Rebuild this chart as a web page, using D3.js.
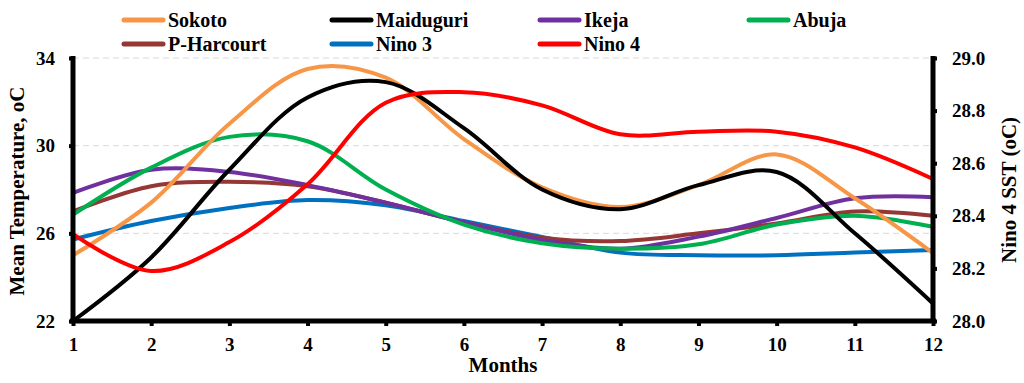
<!DOCTYPE html>
<html><head><meta charset="utf-8">
<script src="https://cdn.jsdelivr.net/npm/d3@7"></script>
<style>body{margin:0;background:#fff}svg{display:block}svg text{font-family:"Liberation Serif","Times New Roman",serif;font-weight:bold;fill:#000}</style>
</head><body><svg id="c" width="1024" height="383"></svg>
<script>
const months = [1,2,3,4,5,6,7,8,9,10,11,12];
const leftTicks = [22,26,30,34];
const rightTicks = [28.0,28.2,28.4,28.6,28.8,29.0];
const sokoto     = [25.0,27.4,31.0,33.5,33.1,30.3,28.1,27.2,28.2,29.6,27.6,25.1];
const maiduguri  = [22.0,24.9,28.9,32.2,32.9,30.8,28.0,27.1,28.2,28.8,26.0,22.8];
const ikeja      = [27.85,28.9,28.8,28.2,27.4,26.5,25.7,25.3,25.85,26.7,27.6,27.65];
const abuja      = [26.85,29.0,30.4,30.2,28.0,26.4,25.55,25.3,25.5,26.4,26.8,26.3];
const pharcourt  = [27.0,28.15,28.35,28.15,27.4,26.5,25.8,25.65,26.0,26.45,27.0,26.8];
const nino3      = [28.31,28.38,28.43,28.46,28.44,28.38,28.32,28.26,28.25,28.25,28.26,28.27];
const nino4      = [28.33,28.19,28.30,28.52,28.83,28.87,28.82,28.71,28.72,28.72,28.66,28.54];

const series = [
  {name:"Sokoto", values:sokoto, color:"#F79646", axis:"L"},
  {name:"Maiduguri", values:maiduguri, color:"#000000", axis:"L"},
  {name:"Ikeja", values:ikeja, color:"#7030A0", axis:"L"},
  {name:"Abuja", values:abuja, color:"#00B050", axis:"L"},
  {name:"P-Harcourt", values:pharcourt, color:"#953735", axis:"L"},
  {name:"Nino 3", values:nino3, color:"#0070C0", axis:"R"},
  {name:"Nino 4", values:nino4, color:"#FF0000", axis:"R"}
];
const drawOrder = ["Nino 3","P-Harcourt","Ikeja","Abuja","Sokoto","Maiduguri","Nino 4"];

const svg = d3.select("#c");
const x = d3.scaleLinear().domain([1,12]).range([73,933]);
const yL = d3.scaleLinear().domain([22,34]).range([321,58]);
const yR = d3.scaleLinear().domain([28,29]).range([321,58]);

// gridlines
svg.append("g").selectAll("line").data(leftTicks.filter(d=>d>22)).join("line")
  .attr("x1",73).attr("x2",933).attr("y1",d=>yL(d)).attr("y2",d=>yL(d))
  .attr("stroke","#d9d9d9").attr("stroke-width",1).attr("stroke-dasharray","6,4");

// lines
const line = (ys)=>d3.line().x((d,i)=>x(months[i])).y(d=>ys(d)).curve(d3.curveCatmullRom.alpha(0.5));
const byName = Object.fromEntries(series.map(s=>[s.name,s]));
drawOrder.forEach(n=>{
  const s = byName[n];
  svg.append("path").datum(s.values).attr("fill","none").attr("stroke",s.color)
    .attr("stroke-width",4).attr("stroke-linejoin","round")
    .attr("d",line(s.axis==="L"?yL:yR));
});

// axes
const gL = svg.append("g").attr("transform","translate(73,0)")
  .call(d3.axisLeft(yL).tickValues(leftTicks).tickSize(4).tickPadding(14).tickFormat(d3.format("d")));
const gR = svg.append("g").attr("transform","translate(933,0)")
  .call(d3.axisRight(yR).tickValues(rightTicks).tickSize(4).tickPadding(15).tickFormat(d3.format(".1f")));
const gB = svg.append("g").attr("transform","translate(0,321)")
  .call(d3.axisBottom(x).tickValues(months).tickSize(5).tickPadding(12).tickFormat(d3.format("d")));
[gL,gR,gB].forEach(g=>{
  g.attr("font-family",null).attr("font-size",null);
  g.select(".domain").attr("stroke","#000").attr("stroke-width",5);
  g.selectAll(".tick line").attr("stroke","#000").attr("stroke-width",4);
  g.selectAll("text").attr("fill","#000").style("font-size","19px");
});
gL.select(".domain").attr("d","M0,56V323");
gR.select(".domain").attr("d","M0,56V323");
gB.select(".domain").attr("d","M70,0H936");

// axis titles
svg.append("text").attr("transform","translate(24,191) rotate(-90)").attr("text-anchor","middle")
  .style("font-size","21px").text("Mean Temperature, oC");
svg.append("text").attr("transform","translate(1016,190) rotate(-90)").attr("text-anchor","middle")
  .style("font-size","21px").text("Nino 4 SST (oC)");
svg.append("text").attr("x",503).attr("y",372).attr("text-anchor","middle")
  .style("font-size","21px").text("Months");

// legend
const legendPos = [[122,20],[330,20],[538,20],[747,20],[122,44],[330,44],[538,44]];
series.forEach((s,i)=>{
  const [lx,ly] = legendPos[i];
  const g = svg.append("g");
  g.append("line").attr("x1",lx+2).attr("x2",lx+41).attr("y1",ly).attr("y2",ly)
    .attr("stroke",s.color).attr("stroke-width",5).attr("stroke-linecap","round");
  g.append("text").attr("x",lx+46).attr("y",ly+7).style("font-size","20px").text(s.name);
});
</script></body></html>
